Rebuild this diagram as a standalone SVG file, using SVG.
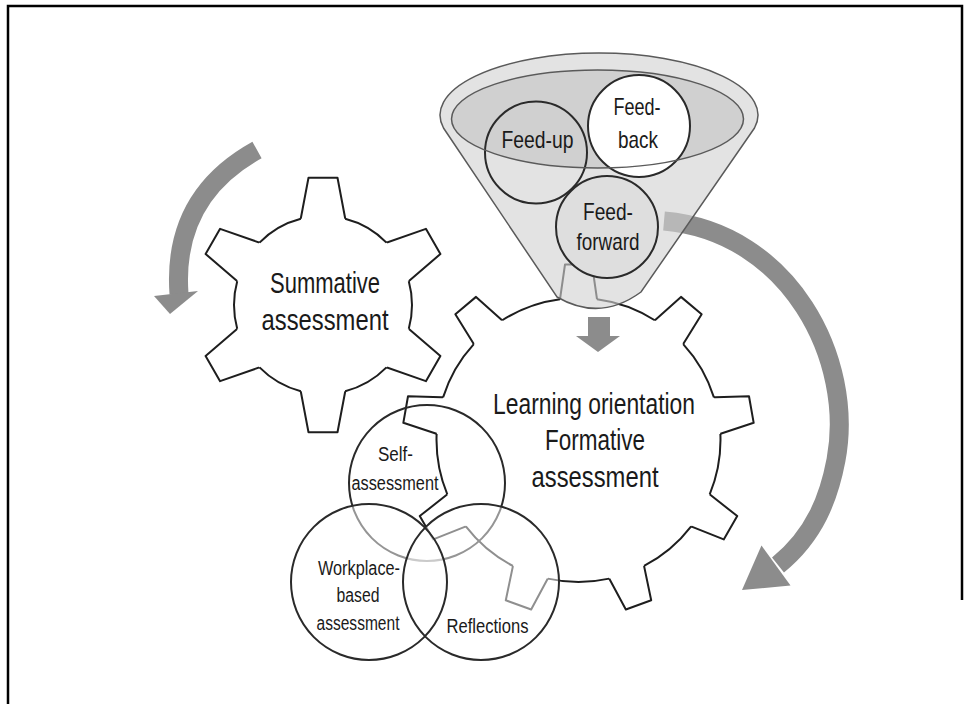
<svg xmlns="http://www.w3.org/2000/svg" width="970" height="704" viewBox="0 0 970 704">
<defs>
<style>
.frame{stroke:#000;stroke-width:2.5;fill:none}
.arrow{fill:none;stroke:#8c8c8c;stroke-width:19}
.ahead{fill:#8c8c8c}
.tooth{fill:#fff;stroke:#1e1e1e;stroke-width:2;stroke-linejoin:round}
.body{fill:#fff;stroke:none}
.rim{fill:none;stroke:#1e1e1e;stroke-width:2}
.cone{fill:#d2d2d2;fill-opacity:0.62;stroke:#5a5a5a;stroke-width:1.5}
.opening{fill:#d0d0d0;stroke:none}
.openline{fill:none;stroke:#5a5a5a;stroke-width:1.5}
.circ{fill:none;stroke:#2a2a2a;stroke-width:2}
.venn{fill:#fff;fill-opacity:0.5;stroke:none}
.lbl{font-family:"Liberation Sans Narrow","Liberation Sans",Arial,sans-serif;fill:#1a1a1a;text-anchor:middle}
.big{font-size:29px}
.mid{font-size:24px}
.small{font-size:20px}
</style>
<polygon id="bt" points="133.9,-19.5 175.5,-13.5 175.5,13.5 133.9,19.5"/>
<polygon id="st" points="80,-23.45 127.2,-14.5 127.2,14.5 80,23.45"/>
</defs>

<g id="frame">
<path class="frame" d="M8,704 L8,6 L962,6 L962,600"/>
</g>

<g id="connectors">
<path class="arrow" d="M257,150 Q172,197 179,294"/>
<polygon class="ahead" points="154,296 198,291 170,314"/>
<path class="arrow" d="M664,221 C790,232 855,360 836,460 C829,497 815,535 778,565"/>
<polygon class="ahead" points="761.5,545.5 790.5,585.5 742,590"/>
</g>

<g id="summative">
<g transform="translate(323,305)">
<use href="#st" class="tooth" transform="rotate(30)"/>
<use href="#st" class="tooth" transform="rotate(90)"/>
<use href="#st" class="tooth" transform="rotate(150)"/>
<use href="#st" class="tooth" transform="rotate(210)"/>
<use href="#st" class="tooth" transform="rotate(270)"/>
<use href="#st" class="tooth" transform="rotate(330)"/>
<circle class="body" r="89"/>
<circle class="rim" r="89" pathLength="360" stroke-dasharray="31 29" stroke-dashoffset="15.5"/>
</g>
<text class="lbl big" x="325" y="293" textLength="110" lengthAdjust="spacingAndGlyphs">Summative</text>
<text class="lbl big" x="325" y="330" textLength="127" lengthAdjust="spacingAndGlyphs">assessment</text>
</g>

<g id="learning">
<g transform="translate(578.5,440)">
<use href="#bt" class="tooth" transform="rotate(30)"/>
<use href="#bt" class="tooth" transform="rotate(70)"/>
<use href="#bt" class="tooth" transform="rotate(110)"/>
<use href="#bt" class="tooth" transform="rotate(150)"/>
<use href="#bt" class="tooth" transform="rotate(190)"/>
<use href="#bt" class="tooth" transform="rotate(230)"/>
<use href="#bt" class="tooth" transform="rotate(270)"/>
<use href="#bt" class="tooth" transform="rotate(310)"/>
<use href="#bt" class="tooth" transform="rotate(350)"/>
<circle class="body" r="142"/>
<circle class="rim" r="142" pathLength="360" stroke-dasharray="25 15" stroke-dashoffset="2.5"/>
</g>
<polygon class="ahead" points="588,317 610,317 610,336 620,336 598,352 576,336 588,336"/>
<text class="lbl big" x="594" y="414" textLength="202" lengthAdjust="spacingAndGlyphs">Learning orientation</text>
<text class="lbl big" x="595" y="450" textLength="100" lengthAdjust="spacingAndGlyphs">Formative</text>
<text class="lbl big" x="595" y="487" textLength="127" lengthAdjust="spacingAndGlyphs">assessment</text>
</g>

<g id="funnel">
<path class="cone" d="M443.5,128 A159,62 0 1 1 754.5,128 L641,292 Q600,322 557,297 Z"/>
<ellipse class="opening" cx="597.5" cy="119" rx="146" ry="49"/>
</g>

<g id="feedback">
<circle cx="639" cy="126" r="51" fill="#fff" stroke="#2a2a2a" stroke-width="2"/>
</g>
<g id="feedup">
<circle class="circ" cx="536" cy="152.5" r="51"/>
</g>
<ellipse class="openline" cx="597.5" cy="119" rx="146" ry="49"/>
<g id="feedforward">
<circle cx="607" cy="227" r="51" fill="#dedede" stroke="#2a2a2a" stroke-width="2"/>
</g>
<g id="funnel-labels">
<text class="lbl mid" x="537.5" y="148" textLength="72" lengthAdjust="spacingAndGlyphs">Feed-up</text>
<text class="lbl mid" x="637" y="115" textLength="47" lengthAdjust="spacingAndGlyphs">Feed-</text>
<text class="lbl mid" x="638" y="148" textLength="40" lengthAdjust="spacingAndGlyphs">back</text>
<text class="lbl mid" x="608" y="220" textLength="50" lengthAdjust="spacingAndGlyphs">Feed-</text>
<text class="lbl mid" x="608" y="250" textLength="63" lengthAdjust="spacingAndGlyphs">forward</text>
</g>

<g id="self">
<circle class="circ" cx="427" cy="483" r="78"/>
</g>
<g id="workplace">
<circle class="venn" cx="369" cy="582" r="78"/>
</g>
<g id="reflections">
<circle class="venn" cx="481" cy="582" r="78"/>
</g>
<circle class="circ" cx="369" cy="582" r="78"/>
<circle class="circ" cx="481" cy="582" r="78"/>
<g id="venn-labels">
<text class="lbl small" x="395.5" y="461" textLength="35" lengthAdjust="spacingAndGlyphs">Self-</text>
<text class="lbl small" x="395" y="490" textLength="87" lengthAdjust="spacingAndGlyphs">assessment</text>
<text class="lbl small" x="359" y="575" textLength="82" lengthAdjust="spacingAndGlyphs">Workplace-</text>
<text class="lbl small" x="358" y="602" textLength="43" lengthAdjust="spacingAndGlyphs">based</text>
<text class="lbl small" x="358" y="630" textLength="83" lengthAdjust="spacingAndGlyphs">assessment</text>
<text class="lbl small" x="487.5" y="633" textLength="82" lengthAdjust="spacingAndGlyphs">Reflections</text>
</g>
</svg>
